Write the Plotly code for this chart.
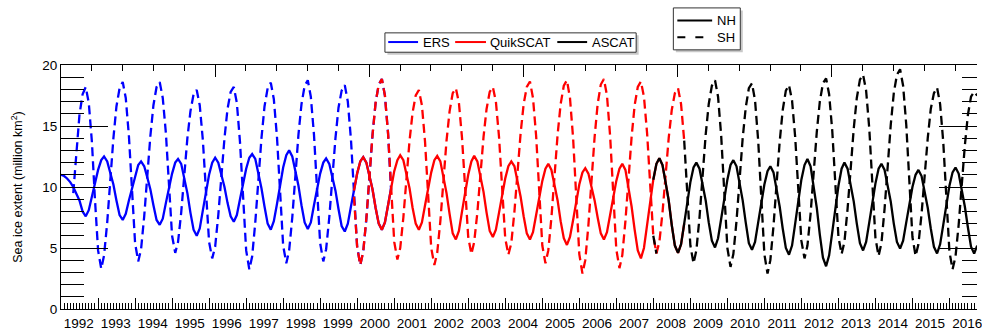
import plotly.graph_objects as go
import pandas as pd

FONT = "Liberation Sans, Arial, Helvetica, sans-serif"

# ---------------- data (million km^2, monthly, first of month) ----------------
ers_nh_start = "1992-01-01"
ers_nh = [
    11.0, 10.9, 10.7, 10.4, 10.0, 9.5, 8.9, 8.0, 7.6, 8.1, 9.2, 10.3,    # 1992
    11.4, 12.2, 12.5, 12.1, 11.2, 10.2, 8.9, 7.7, 7.3, 7.8, 8.9, 9.9,    # 1993
    11.0, 11.8, 12.1, 11.7, 10.8, 9.8, 8.5, 7.3, 6.9, 7.4, 8.7, 9.9,     # 1994
    11.1, 12.0, 12.3, 11.9, 10.7, 9.5, 7.9, 6.5, 6.0, 6.6, 8.1, 9.5,     # 1995
    11.0, 12.0, 12.4, 12.0, 11.1, 10.0, 8.7, 7.6, 7.15, 7.7, 9.0, 10.2,  # 1996
    11.5, 12.4, 12.7, 12.3, 11.2, 9.9, 8.4, 7.0, 6.5, 7.2, 8.6, 10.1,    # 1997
    11.6, 12.6, 13.0, 12.5, 11.4, 10.1, 8.5, 7.1, 6.55, 7.1, 8.5, 9.7,   # 1998
    11.1, 12.0, 12.35, 11.9, 10.9, 9.7, 8.2, 6.8, 6.35, 7.0, 8.4, 9.7,   # 1999
    11.1, 12.1, 12.45, 12.0, 11.0, 9.8, 8.3, 7.0, 6.5, 7.1, 8.5, 9.9,    # 2000
]
ers_sh_start = "1992-05-01"
ers_sh = [
    9.5, 13.0, 15.9, 17.6, 18.2, 16.9, 13.7, 9.0,                        # 1992
    4.8, 3.3, 4.4, 7.1, 10.6, 14.0, 16.6, 18.1, 18.6, 17.3, 14.2, 9.5,   # 1993
    5.4, 3.9, 4.9, 7.6, 11.0, 14.2, 16.7, 18.2, 18.6, 17.3, 14.4, 9.9,   # 1994
    6.0, 4.6, 5.5, 7.9, 11.0, 14.0, 16.2, 17.6, 17.95, 16.7, 13.8, 9.4,  # 1995
    5.5, 4.15, 5.1, 7.7, 10.9, 14.0, 16.4, 17.8, 18.2, 16.9, 13.7, 8.9,  # 1996
    4.8, 3.25, 4.3, 7.1, 10.6, 14.0, 16.6, 18.1, 18.55, 17.2, 14.1, 9.4, # 1997
    5.2, 3.75, 4.8, 7.5, 11.0, 14.3, 16.8, 18.3, 18.75, 17.4, 14.3, 9.5, # 1998
    5.4, 3.9, 4.9, 7.5, 10.8, 14.0, 16.5, 17.9, 18.35, 17.0, 13.9, 9.2,  # 1999
    5.1, 3.6, 4.7, 7.4, 10.9, 14.3, 16.9, 18.4, 18.85, 17.5, 14.4, 9.7,  # 2000
]

qscat_start = "1999-12-01"
qscat_nh = [
    9.7,                                                                  # 1999
    11.1, 12.1, 12.45, 12.0, 11.0, 9.8, 8.3, 7.0, 6.5, 7.1, 8.5, 9.9,    # 2000
    11.3, 12.2, 12.6, 12.2, 11.1, 9.9, 8.3, 7.0, 6.5, 7.1, 8.5, 9.8,     # 2001
    11.2, 12.2, 12.55, 12.1, 10.8, 9.5, 7.8, 6.2, 5.7, 6.4, 8.0, 9.5,    # 2002
    11.0, 12.1, 12.55, 12.1, 10.9, 9.6, 7.9, 6.4, 5.9, 6.5, 7.9, 9.3,    # 2003
    10.7, 11.7, 12.1, 11.7, 10.5, 9.2, 7.6, 6.2, 5.7, 6.3, 7.7, 9.1,     # 2004
    10.5, 11.5, 11.9, 11.4, 10.2, 8.9, 7.2, 5.8, 5.25, 5.9, 7.3, 8.7,    # 2005
    10.2, 11.2, 11.55, 11.1, 10.1, 8.9, 7.5, 6.2, 5.7, 6.3, 7.7, 9.1,    # 2006
    10.5, 11.5, 11.9, 11.4, 10.0, 8.4, 6.5, 4.8, 4.15, 5.0, 6.9, 8.7,    # 2007
    10.6, 11.9, 12.35, 11.8, 10.4, 8.9, 6.9, 5.2, 4.6, 5.3, 7.0,         # 2008
]
qscat_sh = [
    9.2,                                                                  # 1999
    5.1, 3.6, 4.7, 7.4, 10.9, 14.3, 16.9, 18.4, 18.85, 17.5, 14.4, 9.7,  # 2000
    5.5, 4.05, 5.0, 7.5, 10.7, 13.8, 16.1, 17.5, 17.95, 16.7, 13.7, 9.1, # 2001
    5.0, 3.6, 4.6, 7.2, 10.6, 13.8, 16.2, 17.7, 18.1, 16.9, 14.0, 9.7,   # 2002
    5.9, 4.5, 5.5, 7.9, 11.1, 14.1, 16.4, 17.8, 18.2, 17.0, 14.1, 9.7,   # 2003
    5.8, 4.45, 5.4, 8.0, 11.3, 14.4, 16.8, 18.2, 18.65, 17.3, 14.2, 9.4, # 2004
    5.2, 3.75, 4.8, 7.5, 11.0, 14.3, 16.8, 18.3, 18.75, 17.3, 14.0, 8.9, # 2005
    4.5, 2.9, 4.0, 6.9, 10.6, 14.1, 16.8, 18.4, 18.85, 17.5, 14.2, 9.2,  # 2006
    4.9, 3.35, 4.4, 7.2, 10.7, 14.1, 16.7, 18.2, 18.65, 17.4, 14.4, 9.9, # 2007
    6.0, 4.55, 5.5, 7.9, 11.1, 14.0, 16.3, 17.7, 18.1, 16.8, 13.8,       # 2008
]

ascat_start = "2008-01-01"
ascat_nh = [
    10.6, 11.9, 12.35, 11.8, 10.4, 8.9, 6.9, 5.2, 4.6, 5.3, 7.0, 8.7,    # 2008
    10.4, 11.6, 12.0, 11.5, 10.3, 8.9, 7.1, 5.6, 5.05, 5.8, 7.4, 9.0,    # 2009
    10.6, 11.8, 12.2, 11.7, 10.4, 8.9, 7.1, 5.4, 4.85, 5.5, 7.1, 8.6,    # 2010
    10.2, 11.3, 11.7, 11.2, 9.9, 8.4, 6.6, 5.0, 4.45, 5.2, 7.0, 8.8,     # 2011
    10.6, 11.8, 12.3, 11.7, 10.1, 8.3, 6.1, 4.2, 3.5, 4.4, 6.3, 8.2,     # 2012
    10.1, 11.5, 12.0, 11.5, 10.2, 8.8, 7.0, 5.4, 4.8, 5.5, 7.1, 8.7,     # 2013
    10.3, 11.5, 11.9, 11.4, 10.2, 8.8, 7.0, 5.5, 4.95, 5.6, 7.1, 8.5,    # 2014
    10.0, 11.0, 11.4, 10.9, 9.7, 8.3, 6.6, 5.1, 4.55, 5.3, 6.9, 8.4,     # 2015
    10.1, 11.2, 11.6, 11.1, 9.8, 8.4, 6.7, 5.1, 4.55, 5.2,               # 2016
]
# no ASCAT SH values visible Mar-Oct 2008 (QuikSCAT shown there)
ascat_sh = [
    6.0, 4.55, None, None, None, None, None, None, None, None, 13.8, 9.2,  # 2008
    5.2, 3.75, 4.8, 7.5, 11.0, 14.3, 16.8, 18.3, 18.75, 17.4, 14.2, 9.3,   # 2009
    5.0, 3.45, 4.5, 7.2, 10.7, 14.0, 16.5, 18.1, 18.5, 17.1, 13.8, 8.8,    # 2010
    4.5, 2.9, 4.0, 6.8, 10.3, 13.7, 16.3, 17.9, 18.35, 17.1, 14.1, 9.6,    # 2011
    5.6, 4.15, 5.2, 7.8, 11.2, 14.5, 17.0, 18.5, 18.9, 17.6, 14.6, 10.0,   # 2012
    5.9, 4.5, 5.5, 8.2, 11.6, 14.8, 17.3, 18.8, 19.2, 17.9, 14.8, 10.0,    # 2013
    5.8, 4.35, 5.4, 8.2, 11.7, 15.1, 17.7, 19.2, 19.65, 18.3, 15.1, 10.2,  # 2014
    5.9, 4.35, 5.3, 7.8, 11.0, 14.0, 16.4, 17.7, 18.15, 16.8, 13.7, 8.9,   # 2015
    4.7, 3.25, 4.3, 6.9, 10.2, 13.4, 15.9, 17.4, 17.8, 17.5,               # 2016
]

instruments = ["ERS", "QuikSCAT", "ASCAT"]
inst_colors = ["#0000ff", "#ff0000", "#000000"]
hemispheres = ["NH", "SH"]
year_labels = [str(y) for y in range(1992, 2017)]
x_range = ["1992-01-01", "2016-09-29"]

series = [
    ((ers_nh_start, ers_nh), (ers_sh_start, ers_sh)),
    ((qscat_start, qscat_nh), (qscat_start, qscat_sh)),
    ((ascat_start, ascat_nh), (ascat_start, ascat_sh)),
]

LW = 2.3
DASH = "9px,5px"

# ---------------- geometry helpers (pixel -> paper) ----------------
W, H = 982, 336
ML, MR, MT, MB = 61, 0, 64.5, 27
PW, PH = W - ML - MR, H - MT - MB


def px(x):
    return (x - ML) / PW


def py(y):
    return (H - MB - y) / PH


fig = go.Figure()
for name, color, (nh, sh) in zip(instruments, inst_colors, series):
    for (start, vals), dash in ((nh, "solid"), (sh, DASH)):
        fig.add_trace(go.Scatter(
            x=pd.date_range(start, periods=len(vals), freq="MS"), y=vals,
            mode="lines", line=dict(color=color, width=LW, dash=dash),
            name=f"{name} {'NH' if dash == 'solid' else 'SH'}",
            showlegend=False, hoverinfo="skip"))

# empty traces so the extra frame axes (top ticks, right ticks, year labels) are drawn
fig.add_trace(go.Scatter(x=[None], y=[None], xaxis="x2", yaxis="y", showlegend=False, hoverinfo="skip"))
fig.add_trace(go.Scatter(x=[None], y=[None], xaxis="x", yaxis="y2", showlegend=False, hoverinfo="skip"))
fig.add_trace(go.Scatter(x=[None], y=[None], xaxis="x3", yaxis="y", showlegend=False, hoverinfo="skip"))

axis_common = dict(showgrid=False, zeroline=False, tickcolor="black", tickwidth=1)
minor_common = dict(ticks="inside", tickcolor="black", tickwidth=1, showgrid=False)

# ---------------- legends drawn as boxes with sample lines ----------------
shapes, annotations = [], []


def legend_box(x0, y0, x1, y1):
    shapes.append(dict(type="rect", xref="paper", yref="paper", layer="above",
                       x0=px(x0 + 2.5), x1=px(x1 + 2.5), y0=py(y0 + 2.5), y1=py(y1 + 2.5),
                       line=dict(width=0), fillcolor="#c8c8c8"))
    shapes.append(dict(type="rect", xref="paper", yref="paper", layer="above",
                       x0=px(x0), x1=px(x1), y0=py(y0), y1=py(y1),
                       line=dict(color="#333333", width=1), fillcolor="white"))


def legend_item(x0, x1, y, text, color, dash):
    shapes.append(dict(type="line", xref="paper", yref="paper", layer="above",
                       x0=px(x0), x1=px(x1), y0=py(y), y1=py(y),
                       line=dict(color=color, width=2, dash=dash)))
    annotations.append(dict(text=text, xref="paper", yref="paper", x=px(x1 + 3.5), y=py(y),
                            xanchor="left", yanchor="middle", showarrow=False,
                            font=dict(size=13, color="black"), borderpad=0))


legend_box(386.7, 32.3, 639.3, 51.7)
for (x0, x1), name, color in zip([(390, 420), (457.3, 488.3), (560, 590)], instruments, inst_colors):
    legend_item(x0, x1, 41.5, name, color, "solid")

legend_box(676.7, 7.3, 744, 49.3)
for y, name, dash in zip([20, 36.7], hemispheres, ["solid", "8px,10px"]):
    legend_item(680.7, 715.7, y, name, "black", dash)

fig.update_layout(
    width=W, height=H,
    margin=dict(l=ML, r=MR, t=MT, b=MB),
    paper_bgcolor="white", plot_bgcolor="white",
    font=dict(family=FONT, size=13.5, color="black"),
    showlegend=False,
    xaxis=dict(type="date", range=x_range, tick0="1992-01-01", dtick="M12",
               ticks="inside", ticklen=11, showticklabels=False,
               minor=dict(dtick="M1", tick0="1992-01-01", ticklen=6, **minor_common),
               showline=True, linecolor="black", linewidth=1, **axis_common),
    xaxis3=dict(type="date", overlaying="x", side="bottom", anchor="y", range=x_range,
                tickmode="array",
                tickvals=[f"{y}-06-24" for y in year_labels], ticktext=year_labels,
                ticks="", ticklabelstandoff=4, ticklabeloverflow="allow", showline=False,
                tickfont=dict(size=13.5), **axis_common),
    xaxis2=dict(overlaying="x", side="top", anchor="y", range=[0, 30 * 921 / 930],
                tick0=0, dtick=5, ticks="inside", ticklen=12,
                minor=dict(dtick=1, tick0=0, ticklen=6, **minor_common),
                showticklabels=False, showline=True, linecolor="black", linewidth=1,
                **axis_common),
    yaxis=dict(range=[0, 20], tick0=0, dtick=5, ticks="inside", ticklen=47,
               minor=dict(dtick=1, tick0=0, ticklen=23, **minor_common),
               showline=True, linecolor="black", linewidth=1,
               tickfont=dict(size=13.5),
               title=dict(text="Sea ice extent (million km<sup>2</sup>)",
                          font=dict(size=12.5), standoff=16),
               **axis_common),
    yaxis2=dict(overlaying="y", side="right", anchor="x", range=[0, 20],
                tick0=0, dtick=5, ticks="inside", ticklen=38,
                minor=dict(dtick=1, tick0=0, ticklen=15, **minor_common),
                showticklabels=False, showline=False, **axis_common),
    shapes=shapes,
    annotations=annotations,
)

fig.write_html("out.html", config={"displayModeBar": False},
               post_script="document.body.style.margin='0';document.body.style.overflow='hidden';")
